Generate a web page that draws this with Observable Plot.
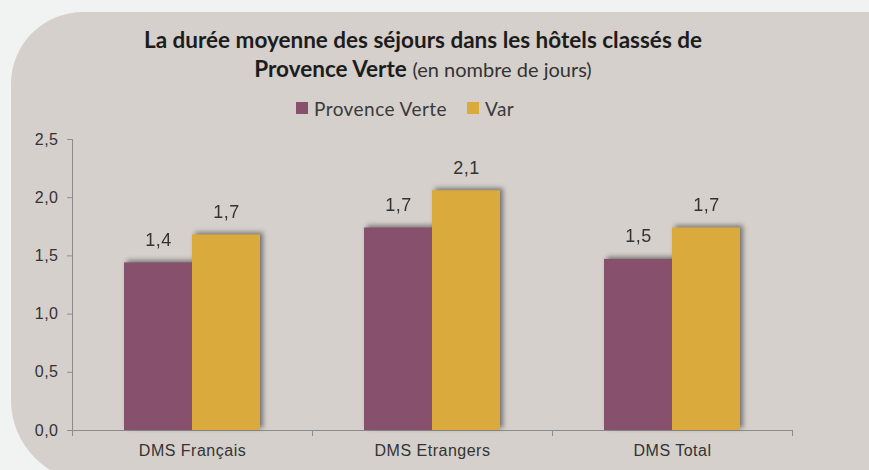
<!DOCTYPE html>
<html lang="fr">
<head>
<meta charset="utf-8">
<script src="https://cdn.jsdelivr.net/npm/d3@7"></script>
<script src="https://cdn.jsdelivr.net/npm/@observablehq/plot@0.6"></script>
<style>
  html, body { margin: 0; padding: 0; }
  body { width: 869px; height: 470px; background: #F1F2F2; position: relative; overflow: hidden; }
  #panel {
    position: absolute; left: 11px; top: 12px; width: 900px; height: 470px;
    background: #D5D0CC; border-radius: 72px 0 0 82px;
  }
  .title {
    position: absolute; left: 0; width: 846px; text-align: center; line-height: 1.2;
    font-family: Lato, "Open Sans", sans-serif; color: #1c1c1c; font-size: 22.5px; white-space: nowrap;
  }
  .title b { font-weight: 700; }
  .title span { font-weight: 400; font-size: 20px; color: #333; }
  #legend {
    position: absolute; top: 97px; left: 296px; height: 22px;
    font-family: Lato, "Open Sans", sans-serif; font-size: 19px; letter-spacing: 0.45px; color: #3a3a3a;
    display: flex; align-items: center; white-space: nowrap;
  }
  #legend i { display: inline-block; width: 12px; height: 12px; margin-right: 6px; }
  #legend .item { display: flex; align-items: center; margin-right: 20px; }
  #chart { position: absolute; left: 0; top: 120px; }
</style>
</head>
<body>
<div id="panel"></div>
<div class="title" style="top:26px"><b>La durée moyenne des séjours dans les hôtels classés de</b></div>
<div class="title" style="top:55px"><b>Provence Verte</b> <span>(en nombre de jours)</span></div>
<div id="legend"></div>
<div id="chart"></div>
<script>
// Average length of stay (days) in classified hotels
const categories = ["DMS Français", "DMS Etrangers", "DMS Total"];
const series = ["Provence Verte", "Var"];
const provenceVerte = [1.44, 1.74, 1.47];
const varDept = [1.68, 2.06, 1.74];
const yTicks = [0, 0.5, 1.0, 1.5, 2.0, 2.5];
const colors = ["#87506D", "#DBAA3D"];

const rows = categories.flatMap((cat, i) => [
  {cat, series: series[0], value: provenceVerte[i]},
  {cat, series: series[1], value: varDept[i]}
]);

const fmt = v => v.toFixed(1).replace(".", ",");

// legend
const legend = d3.select("#legend");
series.forEach((s, i) => {
  const item = legend.append("div").attr("class", "item");
  item.append("i").style("background", colors[i]);
  item.append("span").text(s);
});

const axisGray = "#8c8c8c";

const plot = Plot.plot({
  width: 869,
  height: 350,
  marginTop: 19,
  marginBottom: 40,
  marginLeft: 72,
  marginRight: 77,
  style: {background: "transparent", fontFamily: "'Liberation Sans', Arial, sans-serif", letterSpacing: "0.5px", color: "#333", overflow: "visible"},
  fx: {domain: categories, paddingInner: 0, paddingOuter: 0, label: null},
  x: {domain: series, paddingInner: 0, paddingOuter: 0.75, axis: null},
  y: {domain: [0, 2.5], label: null},
  color: {domain: series, range: colors},
  marks: [
    Plot.axisY({ticks: yTicks, tickFormat: fmt, tickSize: 5, tickPadding: 9, fontSize: 16, stroke: axisGray, label: null}),
    Plot.axisFx({anchor: "bottom", tickSize: 0, tickPadding: 14, fontSize: 16, label: null}),
    Plot.ruleY([0], {stroke: axisGray}),
    Plot.barY(rows, {fx: "cat", x: "series", y: "value", fill: "series"}),
    Plot.text(rows, {fx: "cat", x: "series", y: "value", text: d => fmt(d.value), lineAnchor: "bottom", dy: -17, fontSize: 18, fill: "#333"})
  ]
});

document.getElementById("chart").appendChild(plot);

// soft shadow behind the bars
d3.select(plot).selectAll('g[aria-label="bar"]')
  .style("filter", "drop-shadow(3px -2px 2.5px rgba(0,0,0,0.45))");

// y axis line and category boundary ticks, from the plot's scales
const fxs = plot.scale("fx");
const ys = plot.scale("y");
const y0 = ys.range[0], yTop = ys.range[1];
const xLeft = fxs.range[0];
const g = d3.select(plot).append("g").attr("stroke", axisGray).attr("stroke-width", 1);
g.append("line").attr("x1", xLeft + 0.5).attr("x2", xLeft + 0.5).attr("y1", yTop).attr("y2", y0 + 6);
for (let i = 0; i <= categories.length; ++i) {
  const x = Math.round(xLeft + i * fxs.step) + 0.5;
  g.append("line").attr("x1", x).attr("x2", x).attr("y1", y0).attr("y2", y0 + 6);
}
</script>
</body>
</html>
